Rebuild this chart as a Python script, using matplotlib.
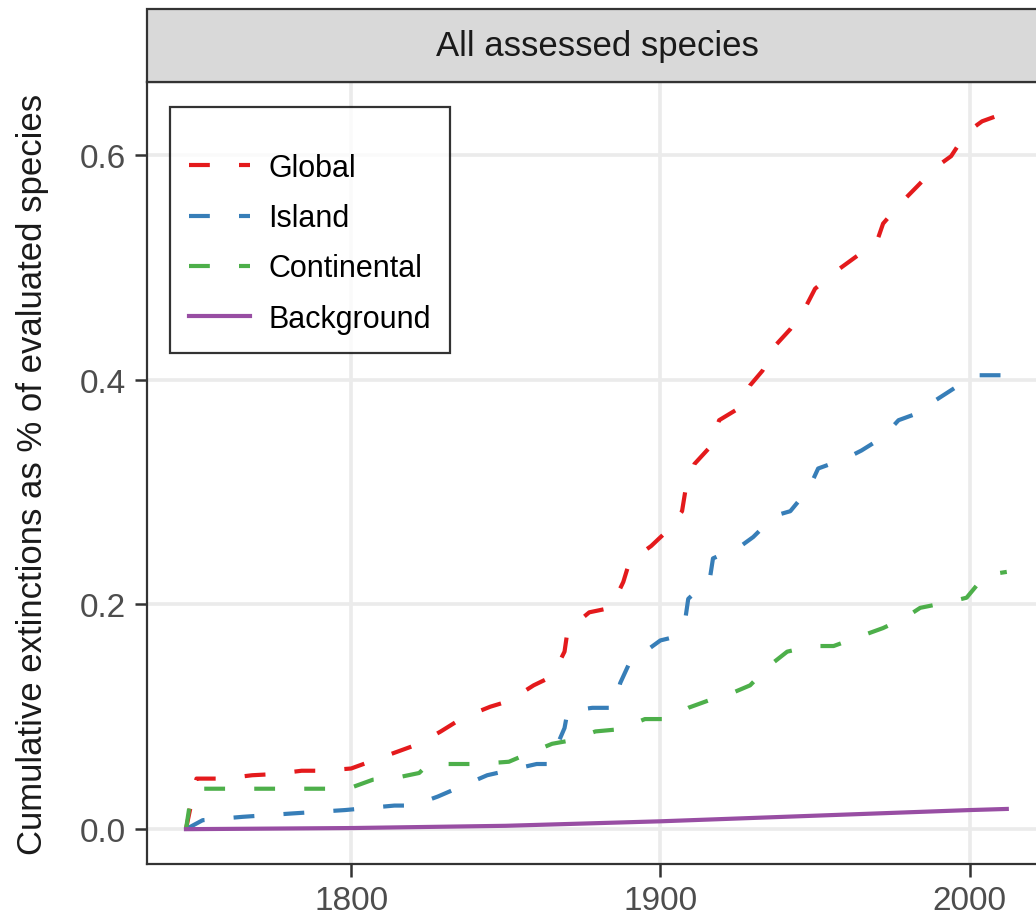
import matplotlib
matplotlib.use("Agg")
import matplotlib.pyplot as plt
from matplotlib.patches import Rectangle

plt.rcParams['font.family'] = ['Liberation Sans', 'DejaVu Sans']

# cumulative extinctions
global_years = [1746.6, 1750, 1759, 1768, 1775, 1784, 1791, 1800, 1807, 1816, 1822,
                1829, 1836, 1845, 1851, 1859, 1865, 1869, 1870, 1877, 1884, 1888,
                1890, 1897, 1902, 1907, 1908, 1911, 1916, 1919, 1925, 1929, 1933,
                1937, 1942, 1947, 1950, 1957, 1962, 1970, 1972, 1978, 1983, 1989,
                1994, 1999, 2004, 2008]
global_vals = [0.0, 0.045, 0.045, 0.048, 0.049, 0.052, 0.052, 0.054, 0.061, 0.070, 0.076,
               0.087, 0.099, 0.109, 0.114, 0.128, 0.136, 0.158, 0.177, 0.193, 0.197, 0.220,
               0.238, 0.252, 0.265, 0.283, 0.300, 0.325, 0.340, 0.364, 0.374, 0.395, 0.408,
               0.430, 0.445, 0.465, 0.481, 0.497, 0.507, 0.523, 0.539, 0.558, 0.572, 0.589,
               0.599, 0.620, 0.630, 0.634]

island_years = [1746.6, 1752, 1765, 1781, 1798, 1814, 1820, 1828, 1844, 1860, 1864,
                1869, 1870, 1878, 1885, 1887, 1890, 1900, 1903, 1908, 1909, 1916,
                1917, 1926, 1930, 1937, 1942, 1948, 1951, 1960, 1965, 1972, 1977,
                1985, 1988, 1997, 2002, 2012]
island_vals = [0.0, 0.008, 0.011, 0.014, 0.017, 0.021, 0.021, 0.029, 0.048, 0.058, 0.058,
               0.090, 0.105, 0.108, 0.108, 0.130, 0.148, 0.168, 0.170, 0.186, 0.205, 0.223,
               0.241, 0.252, 0.260, 0.279, 0.283, 0.303, 0.321, 0.330, 0.337, 0.349, 0.364,
               0.372, 0.380, 0.396, 0.404, 0.404]

cont_years = [1746.6, 1748, 1750, 1795, 1800, 1807, 1815, 1822, 1825, 1841, 1851,
              1857, 1865, 1871, 1879, 1887, 1895, 1902, 1909, 1916, 1923, 1929,
              1935, 1941, 1949, 1956, 1964, 1972, 1979, 1984, 1993, 1999, 2005, 2012]
cont_vals = [0.0, 0.025, 0.036, 0.036, 0.037, 0.044, 0.046, 0.050, 0.058, 0.058, 0.060,
             0.067, 0.076, 0.079, 0.087, 0.089, 0.098, 0.098, 0.108, 0.115, 0.121, 0.128,
             0.145, 0.158, 0.163, 0.163, 0.171, 0.179, 0.188, 0.197, 0.202, 0.206, 0.226, 0.229]

bg_years = [1746.6, 1800, 1850, 1900, 1950, 2000, 2012]
bg_vals = [0.0, 0.001, 0.003, 0.007, 0.012, 0.017, 0.018]

series = [
    ("Global", global_years, global_vals, "#E41A1C", "dashed"),
    ("Island", island_years, island_vals, "#377EB8", "dashed"),
    ("Continental", cont_years, cont_vals, "#4DAF4A", "dashed"),
    ("Background", bg_years, bg_vals, "#984EA3", "solid"),
]

W, H = 1036, 920
fig = plt.figure(figsize=(W / 100, H / 100), dpi=100)
left, right, bottom, top = 147, 1047, 865, 83
ax = fig.add_axes([left / W, (H - bottom) / H, (right - left) / W, (bottom - top) / H])

for name, xs, ys, col, style in series:
    if style == "dashed":
        ax.plot(xs, ys, color=col, lw=3.0, dashes=(5.0, 7.0), label=name,
                dash_capstyle="butt")
    else:
        ax.plot(xs, ys, color=col, lw=3.0, label=name)

ax.set_xlim(1734, 2025)
ax.set_ylim(-0.031, 0.665)
ax.set_xticks([1800, 1900, 2000])
ax.set_yticks([0.0, 0.2, 0.4, 0.6])
ax.set_yticklabels(["0.0", "0.2", "0.4", "0.6"])
ax.grid(True, color="#EBEBEB", lw=2.6)
ax.set_axisbelow(True)
for sp in ax.spines.values():
    sp.set_color("#333333")
    sp.set_linewidth(1.6)
ax.tick_params(axis="both", colors="#333333", length=9, width=1.8,
               labelsize=24, labelcolor="#4D4D4D", pad=6)
ax.set_ylabel("Cumulative extinctions as % of evaluated species", fontsize=25,
              color="#1A1A1A", labelpad=22)

leg = ax.legend(loc="upper left", bbox_to_anchor=(23 / (right - left), 1 - 25 / (bottom - top)),
                fontsize=22, frameon=True, fancybox=False, handlelength=2.0,
                labelspacing=0.66, borderpad=0.62, handletextpad=0.6, borderaxespad=0,
                title=" ", title_fontsize=5)
leg.get_frame().set_edgecolor("black")
leg.get_frame().set_linewidth(1.6)

# facet strip
strip_h = 73
strip = Rectangle((left / W, (H - top) / H), (right - left) / W, strip_h / H,
                  transform=fig.transFigure, facecolor="#D9D9D9", edgecolor="#333333",
                  lw=1.6, clip_on=False)
fig.patches.append(strip)
fig.text((left + right) / 2 / W, (H - top + strip_h / 2) / H, "All assessed species",
         ha="center", va="center", fontsize=25, color="#1A1A1A")

fig.savefig("out.png", dpi=100)
